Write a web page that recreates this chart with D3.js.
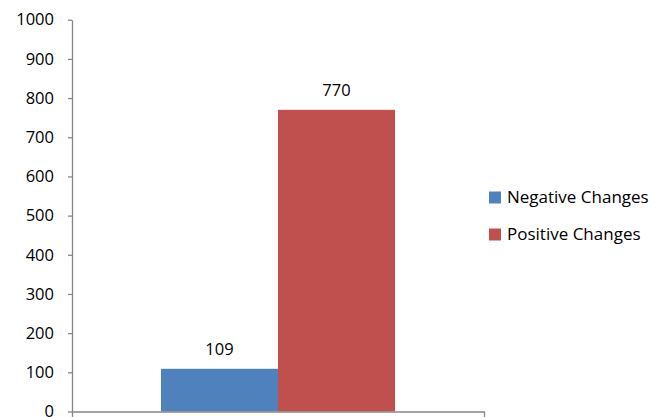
<!DOCTYPE html>
<html>
<head>
<meta charset="utf-8">
<script src="https://cdn.jsdelivr.net/npm/d3@7"></script>
<style>
  html, body { margin: 0; padding: 0; background: #fff; }
  svg { display: block; font-family: "Open Sans", Lato, sans-serif; }
</style>
</head>
<body>
<svg id="chart" width="668" height="417"></svg>
<script>
// Counts of changes, one bar per series in a single group
const categories = [""];
const seriesNames = ["Negative Changes", "Positive Changes"];
const seriesValues = [109, 770];
const seriesColors = ["#4F81BD", "#C0504D"];
const yTicks = [0, 100, 200, 300, 400, 500, 600, 700, 800, 900, 1000];

const fontFamily = "'Open Sans', Lato, sans-serif";
const svg = d3.select("#chart");
const plot = { left: 72, right: 484, top: 19.7, bottom: 411.5 };

const y = d3.scaleLinear().domain([0, 1000]).range([plot.bottom, plot.top]);
const x0 = d3.scaleBand().domain(categories).range([plot.left, plot.right]).paddingInner(0).paddingOuter(0.38);
const x1 = d3.scaleBand().domain(seriesNames).range([0, x0.bandwidth()]).padding(0);

const axisColor = "#868686";

// Y axis
const yAxis = d3.axisLeft(y).tickValues(yTicks).tickFormat(d3.format("d"))
  .tickSize(4).tickSizeOuter(0).tickPadding(14);
const gy = svg.append("g").attr("transform", `translate(${plot.left},0)`).call(yAxis);
gy.select(".domain").attr("stroke", axisColor).attr("stroke-width", 1.3);
gy.selectAll(".tick line").attr("stroke", axisColor).attr("stroke-width", 1.3);
gy.selectAll(".tick text").attr("font-size", 16.5).attr("fill", "#000").attr("font-family", fontFamily);

// Bars with value labels
const g = svg.append("g");
categories.forEach(cat => {
  seriesNames.forEach((name, i) => {
    const v = seriesValues[i];
    const bx = x0(cat) + x1(name);
    g.append("rect")
      .attr("x", bx)
      .attr("y", y(v))
      .attr("width", x1.bandwidth())
      .attr("height", y(0) - y(v))
      .attr("fill", seriesColors[i]);
    g.append("text")
      .attr("x", bx + x1.bandwidth() / 2)
      .attr("y", y(v) - 14)
      .attr("text-anchor", "middle")
      .attr("font-size", 16.5)
      .attr("fill", "#000")
      .text(v);
  });
});

// X axis baseline with end tick marks
const xAxis = d3.axisBottom(x0).tickSize(0).tickSizeOuter(6).tickFormat("");
const gx = svg.append("g").attr("transform", `translate(0,${plot.bottom})`).call(xAxis);
gx.select(".domain").attr("stroke", axisColor).attr("stroke-width", 1.3).attr("fill", "none");

// Legend
const legend = svg.append("g").attr("transform", "translate(489,191.5)");
seriesNames.forEach((name, i) => {
  const row = legend.append("g").attr("transform", `translate(0,${i * 37})`);
  row.append("rect").attr("width", 12).attr("height", 12).attr("fill", seriesColors[i]);
  row.append("text")
    .attr("x", 18)
    .attr("y", 6)
    .attr("dy", "0.35em")
    .attr("font-size", 17)
    .attr("fill", "#000")
    .text(name);
});
</script>
</body>
</html>
